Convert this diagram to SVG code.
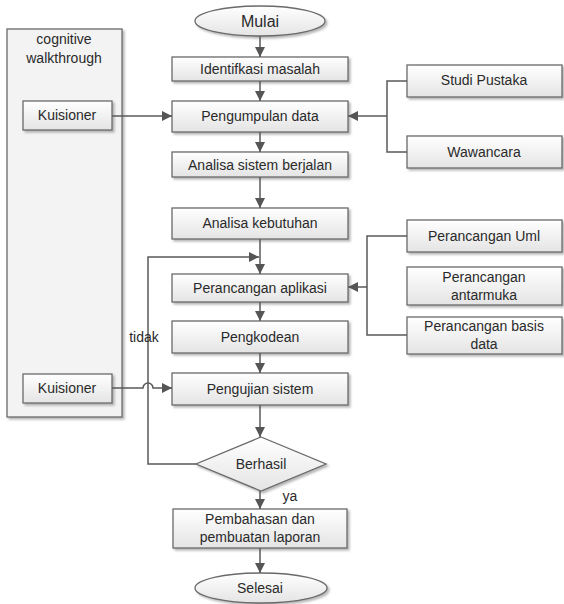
<svg xmlns="http://www.w3.org/2000/svg" width="564" height="604" viewBox="0 0 564 604">
<defs>
<linearGradient id="g" x1="0" y1="0" x2="0" y2="1">
<stop offset="0" stop-color="#ffffff"/>
<stop offset="1" stop-color="#e4e4e4"/>
</linearGradient>
<filter id="sh" x="-10%" y="-10%" width="130%" height="140%">
<feDropShadow dx="2" dy="2" stdDeviation="1" flood-color="#888" flood-opacity="0.6"/>
</filter>
<marker id="ah" markerUnits="userSpaceOnUse" markerWidth="11" markerHeight="11" refX="10" refY="5" orient="auto">
<path d="M0,0 L10,5 L0,10 z" fill="#555"/>
</marker>
</defs>
<style>
.b{fill:url(#g);stroke:#6a6a6a;stroke-width:1.3;filter:url(#sh)}
.c{fill:#f3f3f3;stroke:#6a6a6a;stroke-width:1.3;filter:url(#sh)}
.t{font-family:"Liberation Sans",Arial,sans-serif;font-size:14px;fill:#2a2a2a;text-anchor:middle}
.l{fill:none;stroke:#5a5a5a;stroke-width:1.5}
.a{fill:none;stroke:#5a5a5a;stroke-width:1.5;marker-end:url(#ah)}
</style>
<rect width="564" height="604" fill="#fff"/>

<g id="container">
<rect class="c" x="7" y="29" width="115" height="388"/>
<text class="t" x="64" y="44">cognitive</text>
<text class="t" x="64" y="63">walkthrough</text>
</g>

<g id="mulai">
<ellipse class="b" cx="260" cy="21" rx="65" ry="15"/>
<text class="t" x="260" y="27" style="font-size:16px">Mulai</text>
</g>
<g id="identifikasi">
<rect class="b" x="172" y="57" width="176" height="24"/>
<text class="t" x="260" y="74">Identifkasi masalah</text>
</g>
<g id="pengumpulan">
<rect class="b" x="172" y="101" width="176" height="31"/>
<text class="t" x="260" y="121">Pengumpulan data</text>
</g>
<g id="analisa-sistem">
<rect class="b" x="172" y="152" width="176" height="25"/>
<text class="t" x="260" y="170">Analisa sistem berjalan</text>
</g>
<g id="analisa-kebutuhan">
<rect class="b" x="172" y="208" width="176" height="31"/>
<text class="t" x="260" y="228">Analisa kebutuhan</text>
</g>
<g id="perancangan-aplikasi">
<rect class="b" x="172" y="274" width="176" height="28"/>
<text class="t" x="260" y="293">Perancangan aplikasi</text>
</g>
<g id="pengkodean">
<rect class="b" x="172" y="321" width="176" height="32"/>
<text class="t" x="260" y="342">Pengkodean</text>
</g>
<g id="pengujian">
<rect class="b" x="172" y="373" width="176" height="32"/>
<text class="t" x="260" y="394">Pengujian sistem</text>
</g>
<g id="berhasil">
<polygon class="b" points="261,437 326,464 261,491 196,464"/>
<text class="t" x="261" y="469">Berhasil</text>
</g>
<g id="pembahasan">
<rect class="b" x="173" y="509" width="174" height="39"/>
<text class="t" x="260" y="524">Pembahasan dan</text>
<text class="t" x="260" y="542">pembuatan laporan</text>
</g>
<g id="selesai">
<ellipse class="b" cx="261" cy="588" rx="66" ry="15"/>
<text class="t" x="260" y="593">Selesai</text>
</g>

<g id="kuisioner1">
<rect class="b" x="23" y="101" width="89" height="29"/>
<text class="t" x="67" y="120">Kuisioner</text>
</g>
<g id="kuisioner2">
<rect class="b" x="23" y="374" width="89" height="29"/>
<text class="t" x="67" y="393">Kuisioner</text>
</g>

<g id="studi-pustaka">
<rect class="b" x="407" y="65" width="155" height="32"/>
<text class="t" x="484" y="85">Studi Pustaka</text>
</g>
<g id="wawancara">
<rect class="b" x="407" y="136" width="155" height="32"/>
<text class="t" x="484" y="157">Wawancara</text>
</g>
<g id="perancangan-uml">
<rect class="b" x="407" y="220" width="155" height="32"/>
<text class="t" x="484" y="241">Perancangan Uml</text>
</g>
<g id="perancangan-antarmuka">
<rect class="b" x="407" y="267" width="155" height="38"/>
<text class="t" x="484" y="282">Perancangan</text>
<text class="t" x="484" y="300">antarmuka</text>
</g>
<g id="perancangan-basis">
<rect class="b" x="407" y="317" width="155" height="37"/>
<text class="t" x="484" y="331">Perancangan basis</text>
<text class="t" x="484" y="349">data</text>
</g>

<g id="connectors">
<path class="a" d="M260,36 V57"/>
<path class="a" d="M260,81 V101"/>
<path class="a" d="M260,132 V152"/>
<path class="a" d="M260,177 V208"/>
<path class="a" d="M260,239 V274"/>
<path class="a" d="M260,302 V321"/>
<path class="a" d="M260,353 V373"/>
<path class="a" d="M260,405 V437"/>
<path class="a" d="M260,491 V509"/>
<path class="a" d="M260,548 V573"/>
<path class="a" d="M196,464 H148 V257 H259"/>
<path class="a" d="M112,116 H172"/>
<path class="a" d="M112,388 H143 A5,5 0 0 1 153,388 H172"/>
<path class="l" d="M407,81 H387 V152 H407"/>
<path class="a" d="M387,116 H348"/>
<path class="l" d="M407,236 H367 V335 H407"/>
<path class="a" d="M367,287 H348"/>
<text class="t" x="144" y="342">tidak</text>
<text class="t" x="290" y="501">ya</text>
</g>
</svg>
